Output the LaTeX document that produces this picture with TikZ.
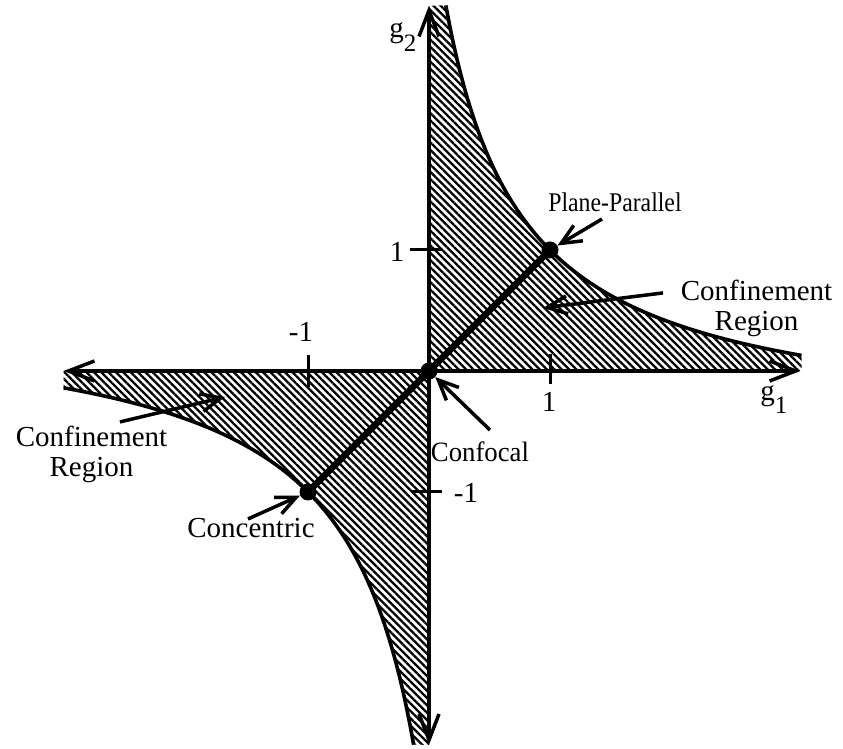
\documentclass[tikz,border=0pt]{standalone}
\usepackage{graphicx}
\usepackage{fontspec}
\setmainfont{Liberation Serif}
\usetikzlibrary{arrows.meta,patterns.meta}
\begin{document}
\begin{tikzpicture}[x=121pt,y=121pt,
  hatch/.style={pattern={Lines[angle=-45,distance=5.2pt,line width=2.3pt]}},
  axisline/.style={line width=3.5pt,{Straight Barb[length=26pt,width=20pt]}-{Straight Barb[length=26pt,width=20pt]}},
  curveline/.style={line width=3.6pt},
  ptr/.style={line width=3.5pt,-{Straight Barb[length=20pt,width=18pt]}},
  dot/.style={circle,fill=black,inner sep=0pt,minimum size=17pt},
  lbl/.style={font=\fontsize{29}{30}\selectfont,inner sep=0pt},
  tickline/.style={line width=3pt}]
\useasboundingbox (-3.5455,-3.124) rectangle (3.4215,3.066);
% hatched confinement regions
\fill[hatch] (0,0) -- (0,3.02) -- plot[domain=0.139:3.08,samples=100] (\x,{2.25/(\x+0.5)-0.5}) -- (3.08,0) -- cycle;
\fill[hatch] (0,0) -- (-3.02,0) -- plot[domain=-3.02:-0.127,samples=100] (\x,{0.5-2.25/(0.5-\x)}) -- (0,-3.09) -- cycle;
% boundary curves
\draw[curveline] plot[domain=0.139:3.08,samples=100] (\x,{2.25/(\x+0.5)-0.5});
\draw[curveline] plot[domain=-3.02:-0.127,samples=100] (\x,{0.5-2.25/(0.5-\x)});
% axes
\coordinate (xl) at (-3.02,0);
\coordinate (xr) at (3.07,0);
\coordinate (yt) at (0,3.02);
\coordinate (yb) at (0,-3.09);
\draw[axisline] (xl) -- (xr);
\draw[axisline] (yb) -- (yt);
% ticks
\draw[tickline] (1,0.14) -- (1,-0.11);
\draw[tickline] (-1,0.13) -- (-1,-0.13);
\draw[tickline] (-0.16,1) -- (0.11,1);
\draw[tickline] (-0.14,-1) -- (0.11,-1);
% tick labels and axis labels
\node[lbl,anchor=base] (t1x) at (0.992,-0.331) {1};
\node[lbl,anchor=base] (tm1x) at (-1.058,0.24) {-1};
\node[lbl,anchor=base] (t1y) at (-0.264,0.901) {1};
\node[lbl,anchor=base] (tm1y) at (0.306,-1.091) {-1};
\node[lbl,anchor=base] (g1) at (2.851,-0.24) {g\raisebox{-0.45em}{\fontsize{25}{25}\selectfont 1}};
\node[lbl,anchor=base] (g2) at (-0.215,2.752) {g\raisebox{-0.45em}{\fontsize{25}{25}\selectfont 2}};
% diagonal line and points
\node[dot] (pp) at (1,1) {};
\node[dot] (cf) at (0,0) {};
\node[dot] (cc) at (-1,-1) {};
\draw[line width=6.5pt] (cc.center) -- (pp.center);
% labels
\node[lbl,anchor=base,font=\fontsize{27}{28}\selectfont] (lpp) at (1.537,1.314) {\scalebox{0.88}[1]{Plane-Parallel}};
\node[lbl,align=center] (lcrR) at (2.707,0.521) {Confinement\\Region};
\node[lbl,align=center] (lcrL) at (-2.789,-0.686) {Confinement\\Region};
\node[lbl,anchor=base] (lcc) at (-1.471,-1.380) {Concentric};
\node[lbl,anchor=base,font=\fontsize{28}{29}\selectfont] (lcf) at (0.421,-0.744) {\scalebox{0.955}[1]{Confocal}};
% pointers
\coordinate (ppa) at (1.43,1.256);
\coordinate (crRa) at (1.934,0.645);
\coordinate (crRb) at (0.942,0.521);
\coordinate (crLa) at (-2.554,-0.421);
\coordinate (crLb) at (-1.686,-0.215);
\coordinate (cca) at (-1.496,-1.223);
\coordinate (cfa) at (0.504,-0.488);
\draw[ptr] (ppa) -- (pp);
\draw[ptr] (crRa) -- (crRb);
\draw[ptr] (crLa) -- (crLb);
\draw[ptr] (cca) -- (cc);
\draw[ptr] (cfa) -- (cf);
\end{tikzpicture}
\end{document}
